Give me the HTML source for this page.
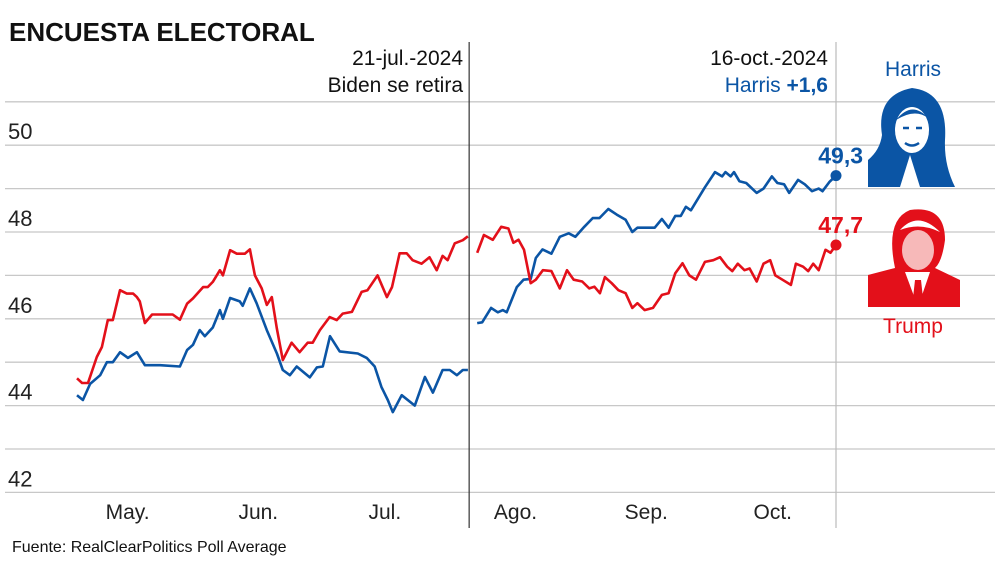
<!DOCTYPE html>
<html><head><meta charset="utf-8">
<style>
body{margin:0;background:#fff;width:1000px;height:567px;overflow:hidden}
svg text{font-family:"Liberation Sans Narrow","Liberation Sans",sans-serif}
</style></head>
<body>
<svg id="chart" width="1000" height="567" viewBox="0 0 1000 567" xmlns="http://www.w3.org/2000/svg">
<text x="9" y="41" font-size="26" font-weight="bold" fill="#111">ENCUESTA ELECTORAL</text>
<g id="grid"></g>
<g id="lines"></g>
<text x="463" y="65" font-size="21" text-anchor="end" fill="#111">21-jul.-2024</text>
<text x="463" y="92" font-size="21" text-anchor="end" fill="#111">Biden se retira</text>
<text x="828" y="65" font-size="21" text-anchor="end" fill="#111">16-oct.-2024</text>
<text x="828" y="92" font-size="21" text-anchor="end" fill="#0b55a5">Harris <tspan font-weight="bold">+1,6</tspan></text>
<text x="913" y="76" font-size="21" text-anchor="middle" fill="#0b55a5">Harris</text>
<text x="913" y="333" font-size="21" text-anchor="middle" fill="#e3101a">Trump</text>
<g>
<path d="M868 187 L868 160 Q880 150 882 135 Q876 95 912 88 Q948 92 945 140 Q944 165 955 187 Z" fill="#0b55a5"/>
<ellipse cx="912" cy="130" rx="17" ry="23" fill="#fff"/>
<path d="M896 120 Q912 100 928 118 Q915 108 896 120Z" fill="#0b55a5"/>
<path d="M903 128 h6 M916 128 h6 M905 143 q7 5 14 0" stroke="#0b55a5" stroke-width="2.5" fill="none"/>
<path d="M900 187 L910 155 L920 187 Z" fill="#fff"/>
</g>
<g>
<path d="M868 307 L868 275 L895 268 Q885 220 910 210 Q945 205 945 240 Q942 262 935 268 L960 280 L960 307 Z" fill="#e3101a"/>
<ellipse cx="918" cy="250" rx="16" ry="20" fill="#f7b9b9"/>
<path d="M900 230 Q918 210 940 232 Q920 222 900 230Z" fill="#fff"/>
<path d="M905 272 L918 307 L930 272 Z" fill="#fff"/>
<path d="M915 280 L921 280 L924 307 L912 307 Z" fill="#e3101a"/>
</g>
<text x="12" y="552" font-size="16" fill="#111">Fuente: RealClearPolitics Poll Average</text>
</svg>
<script>
// day index from 19-apr-2024 (day 0) to 16-oct-2024 (day 180)
const bidenDays=[0,1.4,3.1,5.5,7.1,8.5,10.2,12.1,14.2,16.1,19.7,24.4,26.1,27.5,29.1,30.3,32.2,33.9,34.6,36.3,38.6,39.3,41,42.6,45,47.4,48.8,50.5,52.1,55.2,56.9,58.3,60,62.3,66.6,68.7,70.6,72.2,73.7,74.9,77,80.1,82.5,84.4,86.7,88.4,90.1,91.5,92.7];
const bidenVals=[44.24,44.13,44.5,44.7,45.0,45.0,45.23,45.1,45.23,44.93,44.93,44.9,45.28,45.4,45.74,45.6,45.8,46.2,46.0,46.48,46.4,46.3,46.7,46.36,45.74,45.2,44.82,44.7,44.9,44.65,44.88,44.9,45.6,45.25,45.2,45.1,44.9,44.43,44.13,43.85,44.24,44.0,44.66,44.3,44.82,44.82,44.7,44.82,44.82];
const trumpDays1=[0,1.2,2.6,4.7,5.9,7.3,8.5,10.2,11.8,13.3,14.2,14.9,16.1,17.8,22.7,24.4,26.1,27.5,29.9,31,32.2,33.9,34.6,36.3,37.9,39.8,41,42.2,43.8,45,46.2,47.4,48.8,50.9,52.8,54.7,55.9,57.6,59.9,61.6,63,65.2,67.5,68.9,71.3,73.5,74.7,76.5,78.2,79.6,81.7,83.6,85.3,86.7,87.9,89.6,91.5,92.7];
const trumpVals1=[44.63,44.52,44.52,45.12,45.35,45.97,45.97,46.66,46.58,46.58,46.5,46.4,45.9,46.1,46.1,45.98,46.35,46.47,46.73,46.73,46.85,47.12,47.0,47.58,47.5,47.5,47.6,47.0,46.7,46.32,46.5,45.77,45.05,45.45,45.23,45.45,45.45,45.74,46.04,45.97,46.12,46.16,46.62,46.66,47.0,46.5,46.73,47.51,47.51,47.35,47.27,47.42,47.12,47.45,47.35,47.74,47.81,47.9];
const harrisDays=[94.9,96.1,98.2,99.8,101,101.9,104.3,105.9,107.6,108.8,110.4,112.5,114.5,116.6,118.2,120.3,122.3,123.9,126,128,130.1,131.7,132.9,137,138.7,140.3,141.9,143.2,144.4,145.6,148.9,151.3,153,153.8,155,155.8,157.1,158.7,161.2,162.8,164.8,166.1,167.7,168.9,171,172.6,174.3,175.9,176.8,178.4,180];
const harrisVals=[45.9,45.92,46.25,46.15,46.2,46.15,46.73,46.9,46.92,47.4,47.6,47.5,47.89,47.97,47.89,48.12,48.32,48.32,48.53,48.4,48.28,48.0,48.1,48.1,48.3,48.1,48.37,48.37,48.58,48.5,49.03,49.38,49.28,49.38,49.28,49.38,49.17,49.13,48.9,49.0,49.28,49.13,49.1,48.9,49.2,49.1,48.94,49.0,48.94,49.15,49.3];
const trumpDays2=[94.9,96.5,98.6,100.6,102.3,103.5,104.7,106,107.6,108.8,110.5,112.5,114.5,116.2,117.8,119.8,121.5,122.7,124,125.2,126.8,128.4,130.1,131.7,132.9,134.6,136.6,138.7,140.3,141.9,143.6,145.2,146.8,148.9,150.9,152.5,154.2,155.4,156.7,158.3,159.5,161.2,162.8,164.4,165.6,167.3,169.3,170.5,172.2,173.4,174.6,175.9,177.5,178.7,180];
const trumpVals2=[47.52,47.93,47.82,48.12,48.08,47.75,47.82,47.59,46.82,46.9,47.12,47.1,46.7,47.12,46.9,46.86,46.7,46.74,46.59,46.96,46.82,46.66,46.59,46.25,46.36,46.2,46.25,46.55,46.59,47.05,47.28,47.0,46.9,47.31,47.35,47.42,47.2,47.1,47.27,47.12,47.16,46.86,47.27,47.35,47.0,46.9,46.78,47.27,47.2,47.1,47.27,47.12,47.59,47.52,47.7];
const yTicks=[42,44,46,48,50];
const gridVals=[42,43,44,45,46,47,48,49,50,51];
const monthLabels=["May.","Jun.","Jul.","Ago.","Sep.","Oct."];
const monthDays=[12,43,73,104,135,165];
const harrisLast=49.3, trumpLast=47.7, eventDay=93, lastDay=180;

const NS="http://www.w3.org/2000/svg";
const X=d=>77+d*(759/180);
const Y=v=>232-(v-48)*43.4;
function mk(tag,attrs,parent){const e=document.createElementNS(NS,tag);for(const k in attrs)e.setAttribute(k,attrs[k]);parent.appendChild(e);return e;}
const grid=document.getElementById('grid'), lines=document.getElementById('lines');
gridVals.forEach(v=>{
  const l=mk('line',{x1:5,x2:995,y1:Y(v),y2:Y(v),stroke:'#c8c8c8','stroke-width':1.3},grid);
  
  
});
yTicks.forEach(v=>{
  const t=mk('text',{x:8,y:Y(v)-6,'font-size':22,fill:'#222'},grid);
  t.textContent=v;
  
  
});
monthLabels.forEach((m,i)=>{
  const t=mk('text',{x:X(monthDays[i]),y:519,'font-size':21,fill:'#222','text-anchor':'middle'},grid);
  t.textContent=m;
  
  
});
const ev=mk('line',{x1:X(eventDay),x2:X(eventDay),y1:42,y2:528,stroke:'#333','stroke-width':1.2},grid);


const lv=mk('line',{x1:X(lastDay),x2:X(lastDay),y1:42,y2:528,stroke:'#bbb','stroke-width':1.2},grid);


function line(days,vals,color,name){
  const d=days.map((x,i)=>(i?'L':'M')+X(x).toFixed(1)+' '+Y(vals[i]).toFixed(1)).join(' ');
  const p=mk('path',{d:d,fill:'none',stroke:color,'stroke-width':2.6,'stroke-linejoin':'round'},lines);
  
  
}
const BLUE='#0b55a5', RED='#e3101a';
line(bidenDays,bidenVals,BLUE,'biden-line');
line(trumpDays1,trumpVals1,RED,'trump-line-vs-biden');
line(harrisDays,harrisVals,BLUE,'harris-line');
line(trumpDays2,trumpVals2,RED,'trump-line-vs-harris');
const hd=mk('circle',{cx:X(lastDay),cy:Y(harrisLast),r:5.5,fill:BLUE},lines);


const td=mk('circle',{cx:X(lastDay),cy:Y(trumpLast),r:5.5,fill:RED},lines);


const hl=mk('text',{x:X(lastDay)+27,y:Y(harrisLast)-12,'font-size':23,'font-weight':'bold',fill:BLUE,'text-anchor':'end'},lines);
hl.textContent=String(harrisLast).replace('.',',');


const tl=mk('text',{x:X(lastDay)+27,y:Y(trumpLast)-12,'font-size':23,'font-weight':'bold',fill:RED,'text-anchor':'end'},lines);
tl.textContent=String(trumpLast).replace('.',',');


</script>
</body></html>
